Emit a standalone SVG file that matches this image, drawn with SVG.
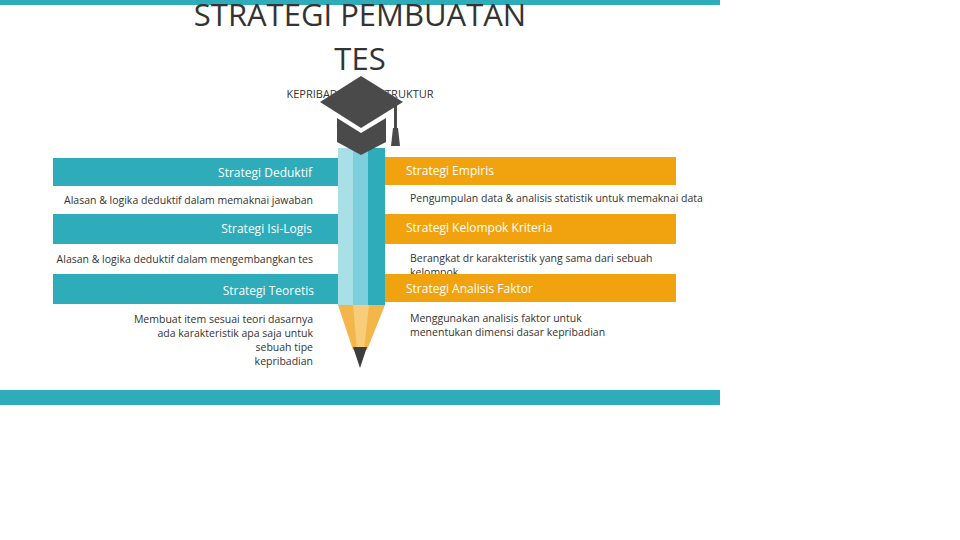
<svg xmlns="http://www.w3.org/2000/svg" width="960" height="540" viewBox="0 0 960 540">
<style>
.t{font-family:"Open Sans","Liberation Sans",sans-serif;fill:#333}
.h{font-family:"Open Sans","Liberation Sans",sans-serif;font-size:12px}
.s{font-family:"Open Sans","Liberation Sans",sans-serif;font-size:10.5px;fill:#333}
.tb{fill:#2eacb9}.ob{fill:#f0a30f}
</style>
<rect width="960" height="540" fill="#fff"/>
<rect x="0" y="0" width="720" height="5" class="tb"/>
<rect x="0" y="390" width="720" height="15" class="tb"/>
<text class="t" x="360" y="26" font-size="31" text-anchor="middle">STRATEGI PEMBUATAN</text>
<text class="t" x="360" y="70" font-size="31" text-anchor="middle">TES</text>
<text class="t" x="360" y="98" font-size="11" text-anchor="middle">KEPRIBADIAN BERSTRUKTUR</text>
<g id="left1"><rect x="53" y="158" width="293" height="28" class="tb"/><text class="h" x="312" y="177" text-anchor="end" fill="#fff">Strategi Deduktif</text><text class="s" x="313" y="204" text-anchor="end">Alasan &amp; logika deduktif dalam memaknai jawaban</text></g>
<g id="left2"><rect x="53" y="214" width="293" height="30" class="tb"/><text class="h" x="312" y="233" text-anchor="end" fill="#fff">Strategi Isi-Logis</text><text class="s" x="313" y="263" text-anchor="end">Alasan &amp; logika deduktif dalam mengembangkan tes</text></g>
<g id="left3"><rect x="53" y="274" width="293" height="30" class="tb"/><text class="h" x="314" y="295" text-anchor="end" fill="#fff">Strategi Teoretis</text><text class="s" x="313" y="323" text-anchor="end">Membuat item sesuai teori dasarnya</text><text class="s" x="313" y="337" text-anchor="end">ada karakteristik apa saja untuk</text><text class="s" x="313" y="351" text-anchor="end">sebuah tipe</text><text class="s" x="313" y="365" text-anchor="end">kepribadian</text></g>
<g id="right1"><rect x="384" y="157" width="292" height="28" class="ob"/><text class="h" x="406" y="175" fill="#fff">Strategi Empiris</text><text class="s" x="410" y="202">Pengumpulan data &amp; analisis statistik untuk memaknai data</text></g>
<g id="right2"><rect x="384" y="214" width="292" height="30" class="ob"/><text class="h" x="406" y="232" fill="#fff">Strategi Kelompok Kriteria</text><text class="s" x="410" y="262">Berangkat dr karakteristik yang sama dari sebuah</text><text class="s" x="410" y="276">kelompok</text></g>
<g id="right3"><rect x="384" y="274" width="292" height="28" class="ob"/><text class="h" x="406" y="293" fill="#fff">Strategi Analisis Faktor</text><text class="s" x="410" y="322">Menggunakan analisis faktor untuk</text><text class="s" x="410" y="336">menentukan dimensi dasar kepribadian</text></g>
<g id="pencil">
<rect x="338" y="148" width="16" height="157" fill="#a9dfe6"/>
<rect x="353" y="148" width="16" height="157" fill="#7ccfdb"/>
<rect x="368" y="148" width="17" height="157" fill="#2eacb9"/>
<path d="M338 305 L385 305 L367 350 L353 350 Z" fill="#f3b64b"/>
<path d="M353 305 L369 305 L364 350 L357 350 Z" fill="#f7cd7a"/>
<path d="M353 347 L367 347 L360 368 Z" fill="#3d3d3d"/>
</g>
<g id="cap">
<path d="M361 76 L403 102 L361 128 L320 102 Z" fill="#4a4a4a"/>
<path d="M337 118 L361 133 L386 118 L386 142 L361 155 L337 142 Z" fill="#4a4a4a"/>
<rect x="394" y="104" width="3" height="26" fill="#4a4a4a"/>
<path d="M391 146 L400 146 L398 128 L393 128 Z" fill="#4a4a4a"/>
</g>
</svg>
